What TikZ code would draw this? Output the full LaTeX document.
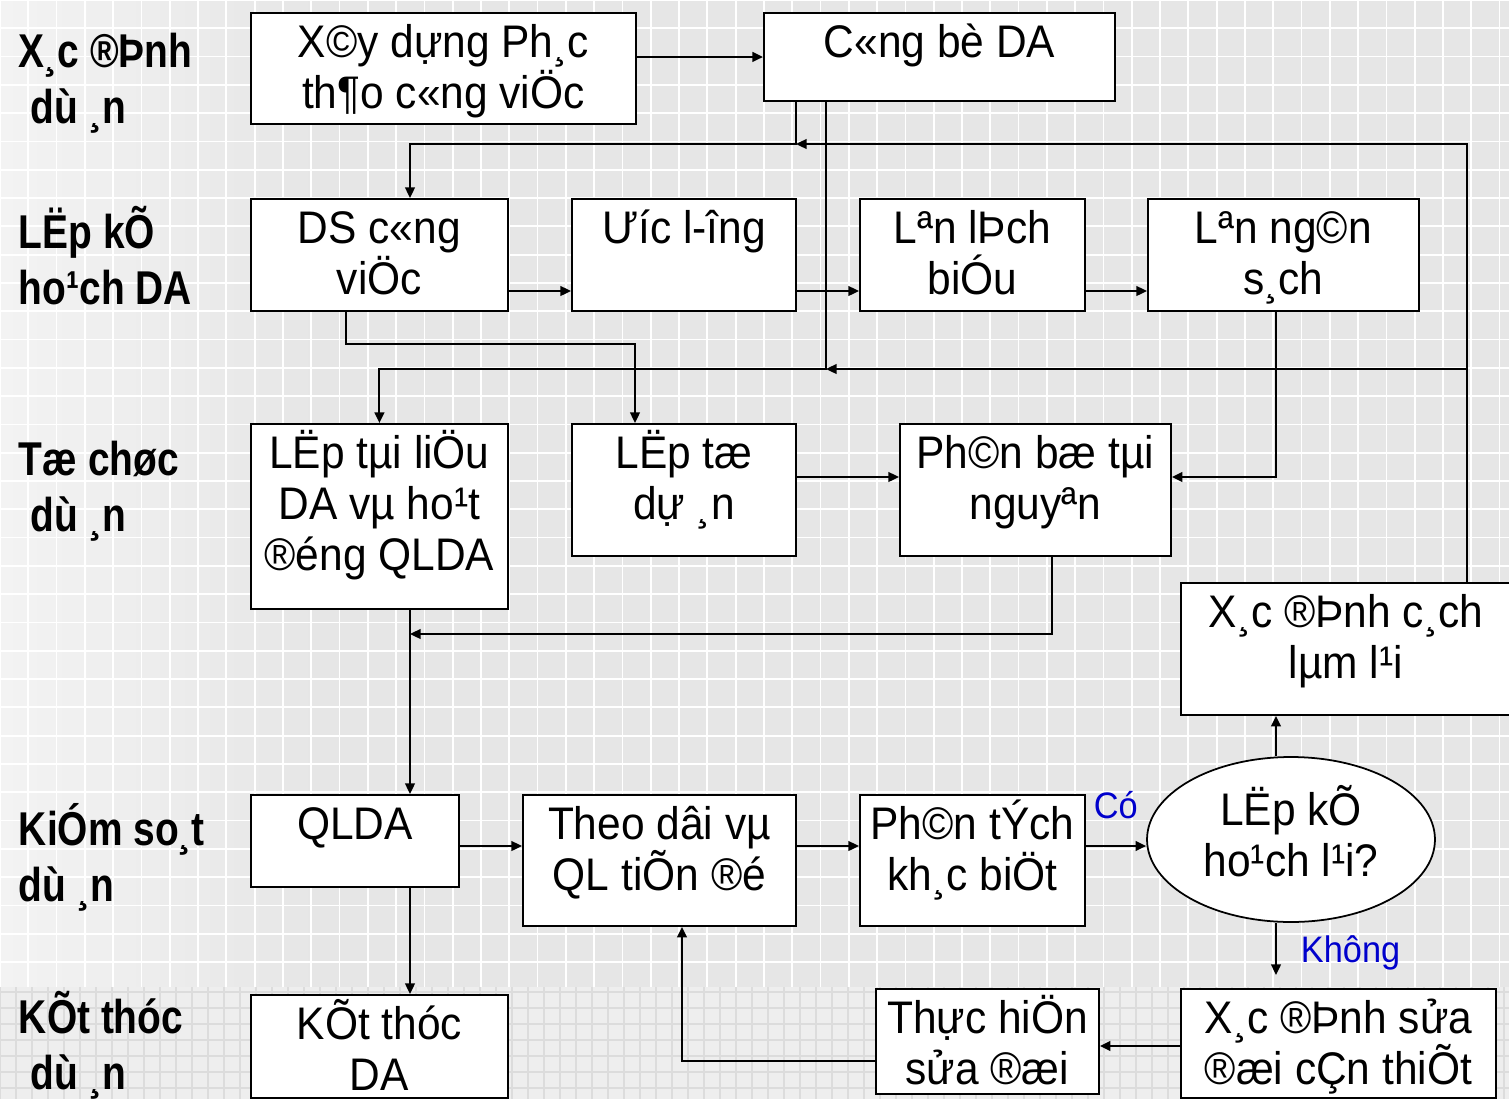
\documentclass[tikz,border=0pt]{standalone}
\usepackage{fontspec}
\setmainfont{Liberation Sans}[FakeStretch=0.93]
\newfontfamily\headfont{Liberation Sans}[FakeStretch=0.82]
\usetikzlibrary{arrows.meta,shapes.geometric}
\definecolor{gridbg}{HTML}{E6E6E6}
\definecolor{leftbg}{HTML}{F3F3F3}
\definecolor{footbg}{HTML}{EEEEEE}
\definecolor{footline}{HTML}{DCDCDC}
\definecolor{noteblue}{HTML}{0000CC}
\newcommand{\boxtext}[3]{\parbox[c][#2][t]{#1}{\centering\rule{0pt}{0.9cm}#3\par}}
\newcommand{\headtext}[1]{\parbox[t]{5cm}{#1}}

\begin{document}
\begin{tikzpicture}[x=0.02cm, y=-0.02cm, >={Triangle[length=6pt,width=5.5pt]}, line width=1.1pt,
  stepbox/.style={draw, fill=white, inner sep=0pt, anchor=north west, font=\fontsize{26}{29}\selectfont},
  decision/.style={ellipse, draw, fill=white, line width=1pt, inner sep=0pt, align=center, text depth=0.34cm,
    minimum width=5.76cm, minimum height=3.3cm, font=\fontsize{26}{29}\selectfont},
  phase/.style={anchor=base west, inner sep=0pt, font=\headfont\bfseries\fontsize{27}{32.4}\selectfont},
  answer/.style={anchor=base west, inner sep=0pt, text=noteblue, font=\fontsize{21}{25}\selectfont}]
  \useasboundingbox (0,0) rectangle (1509,1099);
  \clip (0,0) rectangle (1509,1099);
  \fill[gridbg] (0,0) rectangle (1509,987);
  \shade[left color=leftbg, right color=gridbg] (0,0) rectangle (320,987);
  \draw[white, line width=1pt, step=0.566cm] (0,0) grid (1509,987);
  \fill[footbg] (0,987) rectangle (1509,1099);
  \draw[footline, line width=1pt, step=0.32cm] (0,987) grid (1509,1099);

  \node[phase] (define) at (18,67) {\headtext{X¸c ®Þnh\\\hspace*{0.24cm}dù ¸n}};
  \node[phase] (plan) at (18,248) {\headtext{LËp kÕ\\ho¹ch DA}};
  \node[phase] (organize) at (18,475) {\headtext{Tæ chøc\\\hspace*{0.24cm}dù ¸n}};
  \node[phase] (control) at (18,845) {\headtext{KiÓm so¸t\\dù ¸n}};
  \node[phase] (close) at (18,1033) {\headtext{KÕt thóc\\\hspace*{0.24cm}dù ¸n}};

  \node[stepbox] (xaydung) at (250,12) {\boxtext{7.7cm}{2.22cm}{X©y dựng Ph¸c\\th¶o c«ng viÖc}};
  \node[stepbox] (congbo) at (763,12) {\boxtext{7.02cm}{1.76cm}{C«ng bè DA}};
  \node[stepbox] (dscv) at (250,198) {\boxtext{5.14cm}{2.24cm}{DS c«ng\\viÖc}};
  \node[stepbox] (uocluong) at (571,198) {\boxtext{4.48cm}{2.24cm}{Ưíc l-îng}};
  \node[stepbox] (lichbieu) at (859,198) {\boxtext{4.5cm}{2.24cm}{Lªn lÞch\\biÓu}};
  \node[stepbox] (ngansach) at (1147,198) {\boxtext{5.42cm}{2.24cm}{Lªn ng©n\\s¸ch}};
  \node[stepbox] (tailieu) at (250,423) {\boxtext{5.14cm}{3.7cm}{LËp tµi liÖu\\DA vµ ho¹t\\®éng QLDA}};
  \node[stepbox] (lapto) at (571,423) {\boxtext{4.48cm}{2.64cm}{LËp tæ\\dự ¸n}};
  \node[stepbox] (phanbo) at (899,423) {\boxtext{5.42cm}{2.64cm}{Ph©n bæ tµi\\nguyªn}};
  \node[stepbox] (cachlam) at (1180,582) {\boxtext{6.6cm}{2.64cm}{X¸c ®Þnh c¸ch\\lµm l¹i}};
  \node[stepbox] (qlda) at (250,794) {\boxtext{4.16cm}{1.84cm}{QLDA}};
  \node[stepbox] (theodoi) at (522,794) {\boxtext{5.46cm}{2.62cm}{Theo dâi vµ\\QL tiÕn ®é}};
  \node[stepbox] (phantich) at (859,794) {\boxtext{4.5cm}{2.62cm}{Ph©n tÝch\\kh¸c biÖt}};
  \node[decision] (laplai) at (1291,839.5) {LËp kÕ\\ho¹ch l¹i?};
  \node[stepbox] (thuchien) at (875,988) {\boxtext{4.46cm}{2.1cm}{Thực hiÖn\\sửa ®æi}};
  \node[stepbox] (suadoi) at (1180,988) {\boxtext{6.3cm}{2.18cm}{X¸c ®Þnh sửa\\®æi cÇn thiÕt}};
  \node[stepbox] (ketthuc) at (250,994) {\boxtext{5.14cm}{2.06cm}{KÕt thóc\\DA}};
  \node[answer] (yes) at (1093,818) {Có};
  \node[answer] (no) at (1300,962) {Không};

  \coordinate (fbtop) at (796,144);
  \coordinate (fbleft) at (410,144);
  \coordinate (fbright) at (1467,144);
  \coordinate (fbmid) at (826,369);
  \coordinate (fbmidr) at (1467,369);
  \coordinate (planrow) at (0,291);
  \coordinate (dsturn) at (346,344);
  \coordinate (taturn) at (635,344);
  \coordinate (nsturn) at (1276,477);
  \coordinate (pbturn) at (1052,634);
  \coordinate (trunk) at (410,634);
  \coordinate (ctrlrow) at (0,846);
  \coordinate (nodrop) at (1276,975);
  \coordinate (fixrow) at (0,1046);
  \coordinate (backturn) at (682,1061);

  \draw[->] (xaydung.east |- congbo.west) -- (congbo.west);
  \draw[->] (congbo.south -| fbtop) -- (fbtop) -- (fbleft) -- (dscv.north -| fbleft);
  \draw[->] (cachlam.north -| fbright) -- (fbright) -- (fbtop);
  \draw[->] (fbmidr) -- (fbmid);
  \draw[->] (congbo.south -| fbmid) -- (fbmid) -| (tailieu.north);
  \draw[->] (dscv.east |- planrow) -- (uocluong.west |- planrow);
  \draw[->] (uocluong.east |- planrow) -- (lichbieu.west |- planrow);
  \draw[->] (lichbieu.east |- planrow) -- (ngansach.west |- planrow);
  \draw[->] (dscv.south -| dsturn) -- (dsturn) -- (taturn) -- (lapto.north -| taturn);
  \draw[->] (ngansach.south -| nsturn) -- (nsturn) -- (phanbo.east |- nsturn);
  \draw[->] (lapto.east |- nsturn) -- (phanbo.west |- nsturn);
  \draw[->] (phanbo.south -| pbturn) -- (pbturn) -- (trunk);
  \draw[->] (tailieu.south -| trunk) -- (qlda.north -| trunk);
  \draw[->] (qlda.east |- ctrlrow) -- (theodoi.west |- ctrlrow);
  \draw[->] (theodoi.east |- ctrlrow) -- (phantich.west |- ctrlrow);
  \draw[->] (phantich.east |- ctrlrow) -- (laplai.west |- ctrlrow);
  \draw[->] (laplai.north -| nodrop) -- (cachlam.south -| nodrop);
  \draw[->] (laplai.south -| nodrop) -- (nodrop);
  \draw[->] (suadoi.west |- fixrow) -- (thuchien.east |- fixrow);
  \draw[->] (thuchien.west |- backturn) -- (backturn) -- (theodoi.south -| backturn);
  \draw[->] (qlda.south -| trunk) -- (ketthuc.north -| trunk);
\end{tikzpicture}
\end{document}
